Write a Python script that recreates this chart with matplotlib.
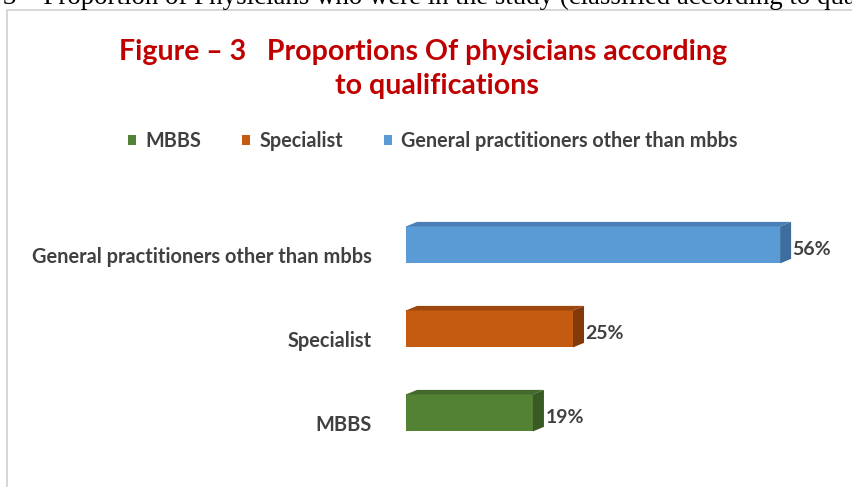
import matplotlib
matplotlib.use('Agg')
import matplotlib.pyplot as plt
from matplotlib.patches import Polygon, Patch, Rectangle

# data
categories = ['MBBS', 'Specialist', 'General practitioners other than mbbs']
values = [19, 25, 56]
front_cols = ['#548235', '#C55A11', '#5B9BD5']
top_cols = ['#44692B', '#9C470E', '#4A80B5']
side_cols = ['#3A5A25', '#84390B', '#3D6E9E']

W, H = 853, 487
fig = plt.figure(figsize=(W / 100, H / 100), dpi=100)
plt.rcParams['font.family'] = ['Lato', 'DejaVu Sans']

# chart frame (left + top edge visible)
fig.patches.append(Rectangle((7 / W, -0.1), 1.2, 1.1 - 10 / H, transform=fig.transFigure,
                             fill=False, edgecolor='#D0D0D0', linewidth=1.2))

# caption from page, cut at top
fig.text(0.004, 1 - 4 / H, '3 \u2013 Proportion of Physicians who were in the study (classified according to qualifications)',
         family='Liberation Serif', fontsize=19.4, va='baseline', ha='left', color='black')

# title, two lines
title_kw = dict(fontsize=20.5, fontweight='bold', color='#C00000', va='baseline')
fig.text(423 / W, 1 - 60 / H, 'Figure \u2013 3   Proportions Of physicians according', ha='center', **title_kw)
fig.text(437 / W, 1 - 94 / H, 'to qualifications', ha='center', **title_kw)

ax = fig.add_axes([406 / W, 13.6 / H, 447 / W, 268.8 / H])
ax.set_xlim(0, 447 / 6.68)
ax.set_ylim(-0.6, 2.6)

dx, dy = 1.65, 0.054
h = 0.44
shift = 0.12
for i, (v, fc, tc, sc) in enumerate(zip(values, front_cols, top_cols, side_cols)):
    yc = i + shift
    bot, top = yc - h / 2, yc + h / 2
    ax.barh(yc, v, height=h, color=fc, edgecolor='none', zorder=3)
    ax.add_patch(Polygon([(0, top), (v, top), (v + dx, top + dy), (dx, top + dy)],
                         closed=True, facecolor=tc, edgecolor='none', zorder=3))
    ax.add_patch(Polygon([(v, bot), (v, top), (v + dx, top + dy), (v + dx, bot + dy)],
                         closed=True, facecolor=sc, edgecolor='none', zorder=3))
    ax.text(v + dx + 0.2, i + 0.07, '%d%%' % v, fontsize=14, fontweight='bold',
            color='#404040', ha='left', va='center')

ax.set_yticks(range(len(categories)))
ax.set_yticklabels(categories, fontsize=14.4, fontweight='bold', color='#404040')
ax.tick_params(axis='y', length=0, pad=24.5)
ax.set_xticks([])
for s in ax.spines.values():
    s.set_visible(False)
ax.patch.set_alpha(0)

handles = [Patch(facecolor=c, edgecolor='none', label=l) for c, l in zip(front_cols, categories)]
fig.legend(handles=handles, loc='center', bbox_to_anchor=(433 / W, 1 - 141 / H), ncol=3,
           frameon=False, prop={'weight': 'bold', 'size': 14.2}, labelcolor='#404040',
           handlelength=0.4, handleheight=0.4, handletextpad=0.45, columnspacing=2.1)

fig.savefig('out.png', dpi=100)
